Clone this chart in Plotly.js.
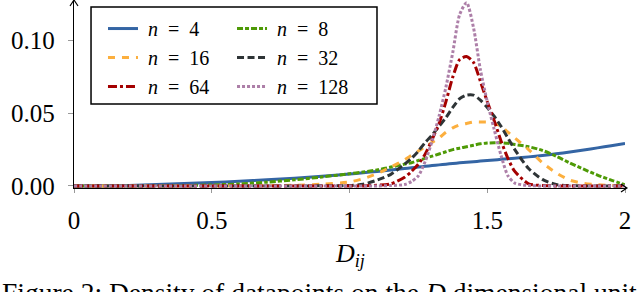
<!DOCTYPE html>
<html>
<head>
<meta charset="utf-8">
<script src="https://cdn.plot.ly/plotly-3.0.1.min.js"></script>
<style>html,body{margin:0;padding:0;background:#fff;}#chart{width:640px;height:292px;}</style>
</head>
<body>
<div id="chart"></div>
<script>
// distance values D_ij (shared x grid)
const dij = [0,0.1,0.2,0.3,0.4,0.5,0.6,0.7,0.8,0.9,1.0,1.05,1.1,1.15,1.2,1.225,1.25,1.275,1.3,1.325,1.35,1.375,1.4,1.425,1.45,1.475,1.5,1.525,1.55,1.575,1.6,1.65,1.7,1.75,1.8,1.85,1.9,1.95,2.0];
// densities per dimension n
const n4   = [0,0.0001,0.0004,0.001,0.0017,0.0024,0.0032,0.0042,0.0053,0.0066,0.0082,0.0091,0.0100,0.0110,0.0120,0.0125,0.0130,0.0135,0.0140,0.0145,0.0150,0.0155,0.0159,0.0163,0.0167,0.0171,0.0175,0.0179,0.0183,0.0187,0.0191,0.0200,0.0210,0.0221,0.0234,0.0248,0.0262,0.0277,0.0293];
const n8   = [0,0,0,0.0001,0.0003,0.0007,0.0014,0.0026,0.0042,0.0062,0.0084,0.0096,0.011,0.013,0.015,0.016,0.0175,0.019,0.0205,0.022,0.0235,0.025,0.026,0.027,0.028,0.029,0.0295,0.0297,0.0297,0.0293,0.0285,0.027,0.0245,0.0205,0.0158,0.0115,0.0075,0.004,0.0008];
const n16  = [0,0,0,0,0,0,0.0001,0.0002,0.0005,0.0012,0.0028,0.005,0.0085,0.013,0.018,0.021,0.024,0.027,0.030,0.033,0.037,0.040,0.042,0.043,0.044,0.044,0.044,0.043,0.041,0.037,0.033,0.025,0.016,0.009,0.004,0.0018,0.0008,0.0003,0];
const n32  = [0,0,0,0,0,0,0,0,0,0.0001,0.0003,0.0012,0.004,0.008,0.015,0.019,0.024,0.030,0.035,0.041,0.047,0.054,0.060,0.0625,0.0625,0.059,0.054,0.048,0.041,0.033,0.025,0.012,0.0045,0.001,0.0002,0,0,0,0];
const n64  = [0,0,0,0,0,0,0,0,0,0,0,0,0.0005,0.0015,0.006,0.01,0.015,0.022,0.032,0.043,0.058,0.075,0.087,0.089,0.085,0.072,0.058,0.045,0.031,0.019,0.010,0.0015,0.0003,0,0,0,0,0,0];
const n128 = [0,0,0,0,0,0,0,0,0,0,0,0,0,0.0003,0.001,0.003,0.007,0.017,0.031,0.048,0.068,0.092,0.118,0.126,0.109,0.080,0.058,0.039,0.021,0.007,0.002,0.0003,0,0,0,0,0,0,0];

const seriesNames = ['4','8','16','32','64','128'];
const seriesData = [n4, n8, n16, n32, n64, n128];
const xTicks = [0, 0.5, 1, 1.5, 2];
const xTickText = ['0', '0.5', '1', '1.5', '2'];
const yTicks = [0, 0.05, 0.10];
const yTickText = ['0.00', '0.05', '0.10'];

const colors = ['#3465a4', '#4e9a06', '#fcaf3e', '#2e3436', '#a40000', '#ad7fa8'];
const dashes = ['solid', '6px,2px,4px,2px', '7px,7px', '7px,3.5px', '9px,3px,3px,3px', '3px,2px'];
const legendIds = ['legend', 'legend2', 'legend', 'legend2', 'legend', 'legend2'];

const traces = seriesNames.map((nm, i) => ({
  type: 'scatter', mode: 'lines',
  x: dij, y: seriesData[i],
  name: '&nbsp;<i>n</i>&nbsp;&nbsp;=&nbsp;&nbsp;' + nm,
  legend: legendIds[i],
  line: {color: colors[i], width: 3, dash: dashes[i], shape: 'spline', smoothing: 0.7}
}));

const FONT = 'Liberation Serif';
const layout = {
  width: 640, height: 292,
  margin: {l: 74, r: 15, t: 1, b: 104, pad: 0},
  paper_bgcolor: '#fff', plot_bgcolor: '#fff',
  showlegend: true,
  font: {family: FONT, size: 25, color: '#000'},
  xaxis: {
    range: [0, 2], tickvals: xTicks, ticktext: xTickText,
    showgrid: false, zeroline: false, showline: true, linecolor: '#000', linewidth: 1.2,
    ticks: 'outside', ticklen: 4, tickcolor: '#999', tickwidth: 1,
    tickfont: {family: FONT, size: 25}, ticklabelstandoff: 6
  },
  yaxis: {
    range: [-0.0014, 0.1272], tickvals: yTicks, ticktext: yTickText,
    showgrid: false, zeroline: false, showline: true, linecolor: '#000', linewidth: 1.2,
    ticks: 'outside', ticklen: 5, tickcolor: '#999', tickwidth: 1,
    tickfont: {family: FONT, size: 25}, ticklabelstandoff: 8
  },
  legend: {
    x: 0.0526, y: 0.957, xanchor: 'left', yanchor: 'top',
    bgcolor: 'rgba(0,0,0,0)', borderwidth: 0,
    font: {family: FONT, size: 20}
  },
  legend2: {
    x: 0.2868, y: 0.957, xanchor: 'left', yanchor: 'top',
    bgcolor: 'rgba(0,0,0,0)', borderwidth: 0,
    font: {family: FONT, size: 20}
  },
  shapes: [
    {type: 'rect', xref: 'paper', yref: 'paper', x0: 0.0309, x1: 0.5499, y0: 0.449, y1: 0.968,
     line: {color: '#000', width: 1.5}, fillcolor: 'rgba(255,255,255,1)', layer: 'above'},
    // arrow heads of the axes
    {type: 'path', xref: 'paper', yref: 'paper',
     path: 'M -0.00726 0.9733 L 0 1.0053 L 0.00726 0.9733 M 0 1 L 0 1.0053',
     line: {color: '#000', width: 1.2}},
    {type: 'path', xref: 'paper', yref: 'paper',
     path: 'M 0.9927 0.0214 L 1.0036 0 L 0.9927 -0.0214 M 1 0 L 1.0036 0',
     line: {color: '#000', width: 1.2}}
  ],
  annotations: [
    {xref: 'paper', yref: 'paper', x: 0.5, y: -0.262, xanchor: 'center', yanchor: 'top',
     text: '<i>D</i><sub><i>ij</i></sub>', showarrow: false,
     font: {family: FONT, size: 26, color: '#000'}},
    {xref: 'paper', yref: 'paper', x: -0.1343, y: -0.465, xanchor: 'left', yanchor: 'top',
     text: 'Figure 2: Density of datapoints on the <i>D</i> dimensional unit',
     showarrow: false, font: {family: FONT, size: 27.5, color: '#000'}}
  ]
};

Plotly.newPlot('chart', traces, layout, {displayModeBar: false, staticPlot: true});
</script>
</body>
</html>
